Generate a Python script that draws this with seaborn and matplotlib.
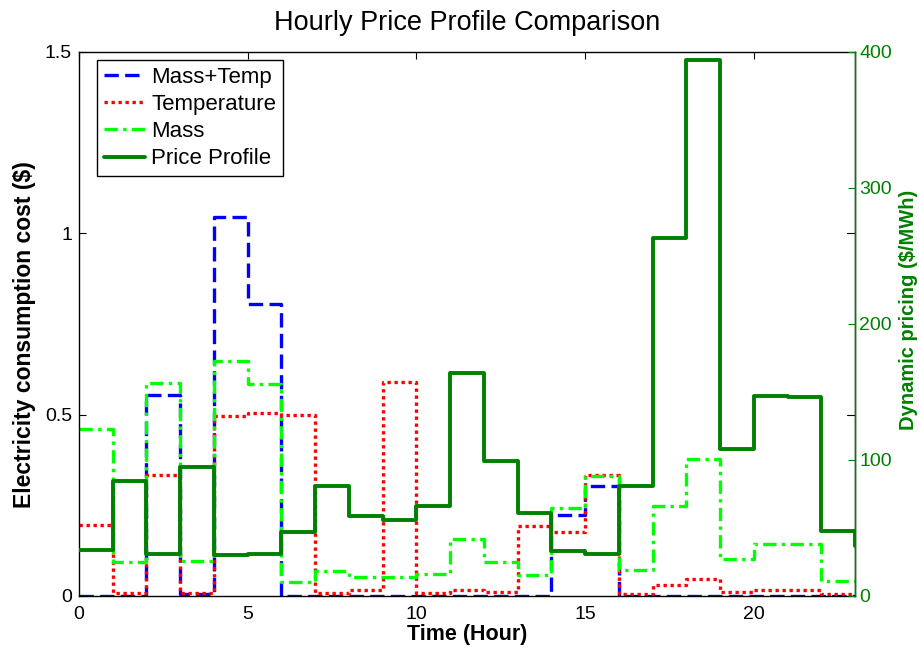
import numpy as np
import pandas as pd
import matplotlib
matplotlib.use("Agg")
import matplotlib.pyplot as plt
import seaborn as sns

# Hourly series (hour 0..23), values held over each hour
hours = list(range(24))
mass_temp = [0.0, 0.0, 0.555, 0.005, 1.045, 0.804, 0.0, 0.0, 0.0, 0.0, 0.0, 0.0,
             0.0, 0.0, 0.223, 0.304, 0.0, 0.0, 0.0, 0.0, 0.0, 0.0, 0.0, 0.0]
temperature = [0.196, 0.007, 0.333, 0.008, 0.496, 0.505, 0.500, 0.007, 0.016, 0.590,
               0.007, 0.017, 0.010, 0.192, 0.176, 0.333, 0.006, 0.031, 0.048, 0.010,
               0.016, 0.016, 0.006, 0.006]
mass = [0.460, 0.095, 0.588, 0.097, 0.647, 0.584, 0.039, 0.070, 0.053, 0.052, 0.060,
        0.156, 0.095, 0.059, 0.243, 0.330, 0.073, 0.248, 0.379, 0.103, 0.143, 0.143,
        0.040, 0.040]
price = [34, 84.6, 31, 95, 30, 31, 47, 81, 59, 56, 66, 164, 99.5, 61, 33, 31, 80.6,
         263.6, 393.8, 108, 147, 146, 47.8, 37]

sns.set_style("white")
plt.rcParams["font.family"] = ["Liberation Sans", "DejaVu Sans"]
plt.rcParams["text.color"] = "black"
plt.rcParams["axes.labelcolor"] = "black"
plt.rcParams["xtick.color"] = "black"
plt.rcParams["ytick.color"] = "black"

fig = plt.figure(figsize=(9.2, 6.5), dpi=100)
ax = fig.add_axes([79 / 920, 1 - 596 / 650, (855 - 79) / 920, (596 - 52) / 650])
ax2 = ax.twinx()

lw = 2.4
sns.lineplot(x=hours, y=mass_temp, ax=ax, color=(0, 0, 1), lw=lw,
             drawstyle="steps-post", linestyle=(0, (4.3, 1.9)), label="Mass+Temp",
             legend=False)
sns.lineplot(x=hours, y=temperature, ax=ax, color=(1, 0, 0), lw=lw,
             drawstyle="steps-post", linestyle=(0, (1.0, 1.1)), label="Temperature",
             legend=False)
sns.lineplot(x=hours, y=mass, ax=ax, color=(0, 1, 0), lw=lw,
             drawstyle="steps-post", linestyle=(0, (4.0, 1.6, 1.0, 1.6)), label="Mass",
             legend=False)
sns.lineplot(x=hours, y=price, ax=ax2, color=(0, 0.5, 0), lw=2.8,
             drawstyle="steps-post", linestyle="-", label="Price Profile",
             legend=False)

ax.set_xlim(0, 23)
ax.set_ylim(0, 1.5)
ax2.set_ylim(0, 400)
ax.set_xticks([0, 5, 10, 15, 20])
ax.set_yticks([0, 0.5, 1, 1.5])
ax.set_yticklabels(["0", "0.5", "1", "1.5"])
ax2.set_yticks([0, 100, 200, 300, 400])

for s in ax.spines.values():
    s.set_color("black")
    s.set_linewidth(1.0)
    s.set_visible(True)
for s in ax2.spines.values():
    s.set_visible(False)
ax2.spines["right"].set_visible(True)
ax2.spines["right"].set_color((0, 0.5, 0))
ax2.spines["right"].set_linewidth(1.0)

ax.tick_params(axis="both", direction="in", length=5, width=0.8, labelsize=14,
               top=True, right=False, colors="black", pad=5)
ax.tick_params(axis="x", pad=7)
ax2.tick_params(axis="y", direction="in", length=5, width=0.8, labelsize=14,
                colors=(0, 0.5, 0), pad=3)

# mirrored left-axis ticks on the right spine
for v in [0.5, 1.0]:
    ax.plot([23 - 0.25, 23], [v, v], color="black", lw=0.8, clip_on=False)

ax.set_xlabel("Time (Hour)", fontsize=15.5, fontweight="bold", labelpad=1,
              color="black")
ax.set_ylabel("Electricity consumption cost ($)", fontsize=16.5, fontweight="bold",
              color="black")
ax.yaxis.set_label_coords(-0.055, 0.48)
ax2.set_ylabel("Dynamic pricing ($/MWh)", fontsize=14.5, fontweight="bold",
               color=(0, 0.5, 0))
ax2.yaxis.set_label_coords(1.057, 0.526)
ax.set_title("Hourly Price Profile Comparison", fontsize=19.5, pad=16, color="black")

h1, l1 = ax.get_legend_handles_labels()
h2, l2 = ax2.get_legend_handles_labels()
leg = ax2.legend(h1 + h2, l1 + l2, loc="upper left", bbox_to_anchor=(0.023, 0.985),
                 fontsize=16, frameon=True, fancybox=False, framealpha=1,
                 edgecolor="black", handlelength=1.85, handletextpad=0.3,
                 borderpad=0.3, labelspacing=0.28, borderaxespad=0)
leg.get_frame().set_linewidth(1.0)
for t in leg.get_texts():
    t.set_color("black")

fig.savefig("out.png", dpi=100)
